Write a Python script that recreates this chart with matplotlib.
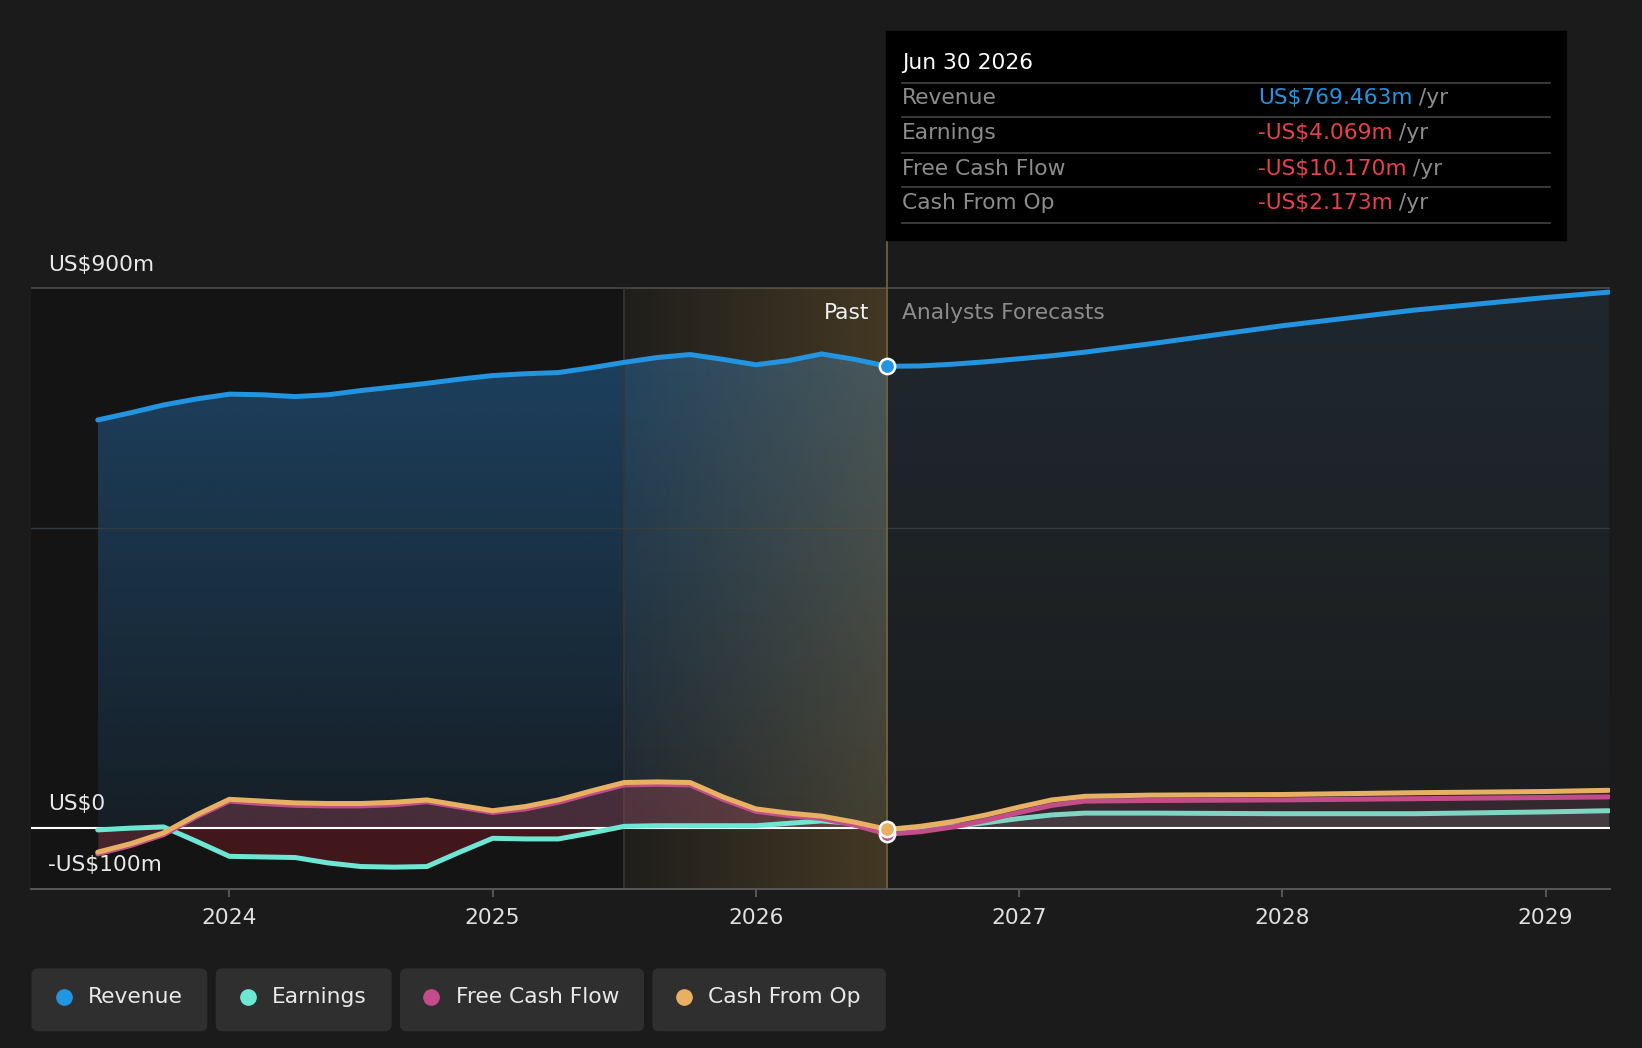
import numpy as np
import matplotlib
matplotlib.use("Agg")
import matplotlib.pyplot as plt
from matplotlib.patches import Rectangle, FancyBboxPatch
from matplotlib.colors import to_rgb

# values (US$ m), x in fractional years
past_x = [2023.5, 2023.625, 2023.75, 2023.875, 2024.0, 2024.125, 2024.25, 2024.375,
          2024.5, 2024.625, 2024.75, 2024.875, 2025.0, 2025.125, 2025.25, 2025.375,
          2025.5, 2025.625, 2025.75, 2025.875, 2026.0, 2026.125, 2026.25, 2026.375,
          2026.5]
rev_past = [680, 692, 705, 715, 723, 722, 719, 722, 729, 735, 741, 748, 754, 757,
            759, 767, 776, 784, 789, 781, 772, 779, 790, 781, 769.463]
earn_past = [-3, 0, 2, -22, -47, -48, -49, -58, -64, -65, -64, -40, -17, -18, -18,
             -8, 3, 4, 4, 4, 4, 8, 12, 8, -4.069]
cfo_past = [-40, -26, -8, 22, 48, 45, 42, 41, 41, 43, 47, 38, 29, 36, 47, 62, 76,
            77, 76, 52, 32, 25, 20, 10, -2.173]
fcf_past = [-43, -29, -11, 19, 45, 41, 38, 37, 37, 39, 44, 35, 26, 32, 43, 58, 72,
            73, 72, 48, 28, 21, 16, 5, -10.170]

fut_x = [2026.5, 2026.625, 2026.75, 2026.875, 2027.0, 2027.125, 2027.25, 2027.5,
         2028.0, 2028.5, 2029.0, 2029.24]
rev_fut = [769.463, 770, 773, 777, 782, 787, 793, 807, 837, 863, 884, 893]
earn_fut = [-4.069, -1, 3, 9, 16, 22, 25, 25, 24, 24, 27, 29]
fcf_fut = [-10.170, -6, 2, 13, 26, 38, 45, 46, 47, 49, 51, 52]
cfo_fut = [-2.173, 3, 11, 22, 35, 47, 53, 55, 56, 59, 61, 63]

year_ticks = [2024, 2025, 2026, 2027, 2028, 2029]
legend_names = ["Revenue", "Earnings", "Free Cash Flow", "Cash From Op"]

C_REV = "#2394df"
C_EARN = "#6de6d3"
C_FCF = "#c24d8a"
C_CFO = "#e8b062"
BG = "#1b1b1b"
FS = 15.7

NOW = 2026.5
PAST_START = 2025.5
XMIN, XMAX = 2023.248, 2029.243
YMIN, YMAX = -101.2, 1379.7

W, H = 1568.0, 1001.0  # layout measured on the reference scaled to this size


def fx(x):
    return x / W


def fy(y):
    return 1 - y / H


fig = plt.figure(figsize=(16.42, 10.48), dpi=100, facecolor=BG)
ax = fig.add_axes([fx(30), fy(849), fx(1537) - fx(30), fy(0) - fy(849)])
ax.set_facecolor(BG)
ax.set_xlim(XMIN, XMAX)
ax.set_ylim(YMIN, YMAX)
for side in ["top", "right", "left"]:
    ax.spines[side].set_visible(False)
ax.spines["bottom"].set_color("#555555")
ax.spines["bottom"].set_linewidth(1.5)
ax.set_yticks([])
ax.set_xticks(year_ticks)
ax.set_xticklabels([str(y) for y in year_ticks])
ax.tick_params(axis="x", colors="#555555", length=6, width=1.5, pad=8,
               labelcolor="#e0e0e0", labelsize=FS)

# darker past region and the highlighted last year
ax.add_patch(Rectangle((XMIN, YMIN), PAST_START - XMIN, 900 - YMIN,
                       color="#141414", zorder=0, lw=0))
grad = np.zeros((2, 256, 4))
grad[:, :, :3] = to_rgb("#c89640")
grad[:, :, 3] = np.linspace(0.03, 0.24, 256)[None, :]
ax.imshow(grad, extent=[PAST_START, NOW, YMIN, 900], aspect="auto",
          zorder=2, interpolation="bilinear")
ax.plot([PAST_START, PAST_START], [YMIN, 900], color="#3a3630", lw=1.2, zorder=2)


# revenue area gradients
def grad_fill(xs, ys, color, a_top, a_bot, top, z):
    poly = ax.fill_between(xs, ys, 0, color="none", lw=0)
    g = np.zeros((256, 2, 4))
    g[:, :, :3] = to_rgb(color)
    g[:, :, 3] = np.linspace(a_top, a_bot, 256)[:, None]
    im = ax.imshow(g, extent=[xs[0], xs[-1], 0, top], aspect="auto",
                   zorder=z, interpolation="bilinear")
    im.set_clip_path(poly.get_paths()[0], transform=ax.transData)


grad_fill(past_x, rev_past, "#2a7fc8", 0.42, 0.1, 800, 1)
grad_fill(fut_x, rev_fut, "#3f88c0", 0.12, 0.02, 900, 1)

# grid lines
ax.axhline(900, color="#4a4a4a", lw=1.2, zorder=1.5)
ax.axhline(500, color="#333a40", lw=1.0, zorder=1.5)

# area between the cash-flow lines and zero
ax.fill_between(past_x, cfo_past, 0, color="#c8506a", alpha=0.28, lw=0, zorder=3)
ax.fill_between(past_x, earn_past, 0, where=[v < 0 for v in earn_past],
                interpolate=True, color="#9a1f2c", alpha=0.35, lw=0, zorder=3)
ax.fill_between(fut_x, cfo_fut, 0, color="#7a4a5a", alpha=0.25, lw=0, zorder=3)
ax.fill_between(fut_x, earn_fut, 0, color="#888888", alpha=0.2, lw=0, zorder=3)

ax.axhline(0, color="white", lw=1.5, zorder=4)

# now line
ax.plot([NOW, NOW], [YMIN, 980], color="#6e6040", lw=1.3, zorder=4)

kw = dict(lw=3.6, solid_capstyle="round", solid_joinstyle="round")
ax.plot(past_x, earn_past, color=C_EARN, zorder=5, **kw)
ax.plot(fut_x, earn_fut, color="#7fd4c2", zorder=5, **kw)
ax.plot(past_x, fcf_past, color=C_FCF, zorder=6, **kw)
ax.plot(fut_x, fcf_fut, color=C_FCF, zorder=6, **kw)
ax.plot(past_x, cfo_past, color=C_CFO, zorder=7, **kw)
ax.plot(fut_x, cfo_fut, color=C_CFO, zorder=7, **kw)
ax.plot(past_x, rev_past, color=C_REV, zorder=7, **kw)
ax.plot(fut_x, rev_fut, color=C_REV, zorder=7, **kw)

ax.plot([NOW], [fcf_past[-1]], "o", ms=11, mfc=C_FCF, mec="white", mew=1.8, zorder=8)
ax.plot([NOW], [cfo_past[-1]], "o", ms=11, mfc=C_CFO, mec="white", mew=1.8, zorder=9)
ax.plot([NOW], [rev_past[-1]], "o", ms=11, mfc=C_REV, mec="white", mew=1.8, zorder=9)

# y labels and period labels
fig.text(fx(46), fy(253), "US$900m", color="#e8e8e8", fontsize=FS, va="center")
fig.text(fx(46), fy(768), "US$0", color="#e8e8e8", fontsize=FS, va="center")
fig.text(fx(46), fy(826), "-US$100m", color="#e8e8e8", fontsize=FS, va="center")
fig.text(fx(830), fy(299), "Past", color="#f0f0f0", fontsize=FS, va="center", ha="right")
fig.text(fx(861), fy(299), "Analysts Forecasts", color="#8c8c8c", fontsize=FS, va="center")

# tooltip
fig.add_artist(Rectangle((fx(846), fy(229)), fx(1495) - fx(846), fy(30) - fy(229),
                         transform=fig.transFigure, color="black", zorder=10))
fig.text(fx(861), fy(60), "Jun 30 2026", color="white", fontsize=FS, va="center", zorder=11)
for yy in [79, 112, 146, 179, 213]:
    fig.add_artist(plt.Line2D([fx(861), fx(1480)], [fy(yy), fy(yy)],
                              transform=fig.transFigure, color="#444444", lw=1.2, zorder=11))
rows = [("Revenue", "US$769.463m", C_REV, 94),
        ("Earnings", "-US$4.069m", "#e8414a", 127),
        ("Free Cash Flow", "-US$10.170m", "#e8414a", 161),
        ("Cash From Op", "-US$2.173m", "#e8414a", 194)]
renderer = fig.canvas.get_renderer()
for label, val, col, yy in rows:
    fig.text(fx(861), fy(yy), label, color="#8c8c8c", fontsize=FS, va="center", zorder=11)
    t = fig.text(fx(1201), fy(yy), val, color=col, fontsize=FS, va="center", zorder=11)
    bb = t.get_window_extent(renderer).transformed(fig.transFigure.inverted())
    fig.text(bb.x1, fy(yy), " /yr", color="#8c8c8c", fontsize=FS, va="center", zorder=11)

# legend chips
chips = [(30, 198, 61), (206, 374, 237), (382, 615, 412), (623, 846, 653)]
cols = [C_REV, C_EARN, C_FCF, C_CFO]
for (x0, x1, xd), name, col in zip(chips, legend_names, cols):
    fig.add_artist(FancyBboxPatch((fx(x0), fy(985)), fx(x1) - fx(x0), fy(925) - fy(985),
                                  boxstyle="round,pad=0,rounding_size=0.004",
                                  mutation_aspect=1642 / 1048,
                                  transform=fig.transFigure, color="#2f2f2f", lw=0))
    fig.add_artist(plt.Line2D([fx(xd)], [fy(952)], marker="o", ms=11, color=col,
                              transform=fig.transFigure))
    fig.text(fx(xd + 23), fy(952), name, color="#e8e8e8", fontsize=FS, va="center")

fig.savefig("out.png", dpi=100, facecolor=BG)
